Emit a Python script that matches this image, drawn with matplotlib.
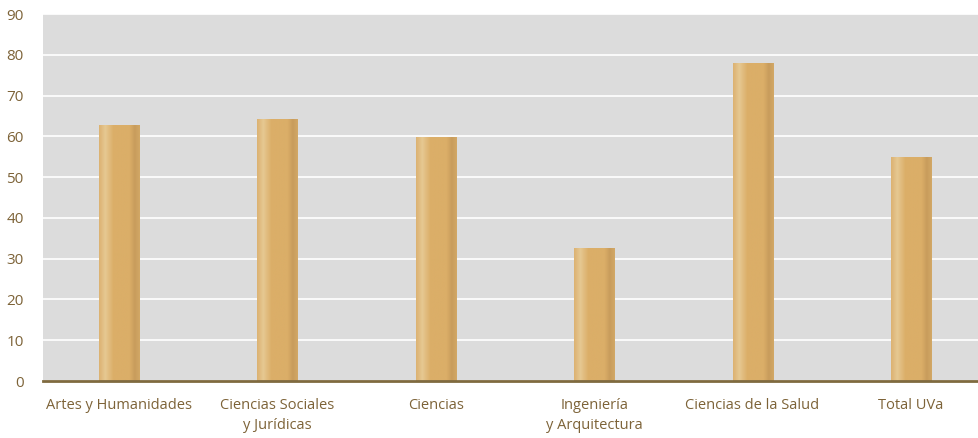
import matplotlib.pyplot as plt
import numpy as np
from matplotlib.colors import LinearSegmentedColormap

categories = ['Artes y Humanidades', 'Ciencias Sociales\ny Jurídicas', 'Ciencias',
              'Ingeniería\ny Arquitectura', 'Ciencias de la Salud', 'Total UVa']
values = [62.7, 64.2, 59.8, 32.4, 77.9, 54.7]
yticks = [0, 10, 20, 30, 40, 50, 60, 70, 80, 90]

plt.rcParams['font.family'] = ['Open Sans', 'DejaVu Sans']
txt = '#7d6338'

fig = plt.figure(figsize=(9.79, 4.38), dpi=100)
ax = fig.add_axes([0.044, 0.130, 0.956, 0.838])
ax.set_facecolor('#dcdcdc')

x = np.arange(len(categories))
bars = ax.bar(x, values, width=0.253, color='#dbae68', zorder=2)

# horizontal shading on each bar: light left, dark right
cmap = LinearSegmentedColormap.from_list('barshade', [
    (0.0, '#dcb272'), (0.15, '#e6c892'), (0.35, '#dbae68'),
    (0.75, '#dbae68'), (0.88, '#c89c5c'), (1.0, '#d2a866')])
grad = np.linspace(0, 1, 100).reshape(1, -1)
for b in bars:
    ax.imshow(grad, cmap=cmap, aspect='auto', zorder=3,
              extent=[b.get_x(), b.get_x() + b.get_width(), 0, b.get_height()])

ax.set_xlim(-0.48, 5.43)
ax.set_ylim(0, 90)
ax.set_yticks(yticks)
ax.set_xticks(x)
ax.set_xticklabels(categories, linespacing=1.45)
ax.grid(axis='y', color='white', linewidth=1.2, zorder=1)
ax.set_axisbelow(True)

for s in ['top', 'right', 'left']:
    ax.spines[s].set_visible(False)
ax.spines['bottom'].set_color('#7f6a3f')
ax.spines['bottom'].set_linewidth(2)
ax.spines['bottom'].set_zorder(5)

ax.tick_params(axis='both', length=0, colors=txt, labelsize=10.5)
ax.tick_params(axis='x', pad=12)
ax.tick_params(axis='y', pad=14)
for lab in ax.get_yticklabels():
    lab.set_fontsize(11)

fig.savefig('out.png', dpi=100)
